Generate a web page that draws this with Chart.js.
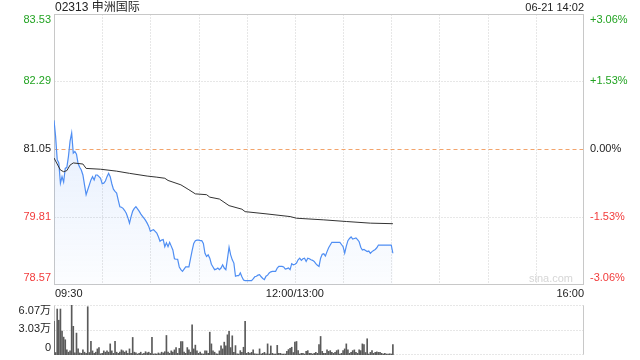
<!DOCTYPE html>
<html><head><meta charset="utf-8">
<script src="https://cdn.jsdelivr.net/npm/chart.js@4.4.0/dist/chart.umd.min.js"></script>
<style>
html,body{margin:0;padding:0;background:#fff;width:640px;height:360px;overflow:hidden;font-family:"Liberation Sans","Noto Sans CJK SC",sans-serif;}
#c1{position:absolute;left:0;top:0;}
#c2{position:absolute;left:0;top:300px;}
#title{position:absolute;left:55px;top:0;font-size:12px;line-height:14px;color:#222;}
#time{position:absolute;right:56px;top:0;font-size:11px;line-height:14px;color:#222;}
</style></head>
<body>
<canvas id="c1" width="640" height="300"></canvas>
<canvas id="c2" width="640" height="60"></canvas>
<div id="title">02313 申洲国际</div>
<div id="time">06-21 14:02</div>
<script>
// ---- data ----
const prevClose = 81.05;
const priceTicks = [83.53, 82.29, 81.05, 79.81, 78.57];
const pctLabels = ['+3.06%', '+1.53%', '0.00%', '-1.53%', '-3.06%'];
const timeTickMinutes = [0, 150, 330];
const timeTickLabels = ['09:30', '12:00/13:00', '16:00'];
const volTicks = [60700, 30350, 0];
const volTickLabels = ['6.07万', '3.03万', '0'];

// price per minute from 09:30 (index = minute)
const price = [
81.58,81.28,80.86,80.80,80.43,80.55,80.45,80.70,80.72,80.92,
81.20,81.35,80.98,81.01,80.96,80.79,80.72,80.67,80.58,80.40,
80.22,80.31,80.40,80.49,80.55,80.49,80.58,80.58,80.55,80.52,
80.42,80.43,80.47,80.55,80.61,80.55,80.42,80.32,80.28,80.25,
80.12,80.00,79.99,79.97,79.93,79.88,79.80,79.70,79.82,79.92,
79.97,80.00,79.96,79.92,79.87,79.83,79.79,79.75,79.70,79.64,
79.55,79.57,79.58,79.55,79.52,79.45,79.37,79.39,79.40,79.27,
79.34,79.27,79.35,79.28,79.21,79.05,79.04,79.04,78.90,78.85,
78.82,78.86,78.90,78.90,78.90,79.05,79.20,79.33,79.38,79.39,
79.39,79.38,79.38,79.33,79.15,79.09,79.12,79.06,78.95,78.90,
78.85,78.86,78.88,78.85,78.88,78.94,78.88,78.85,79.05,79.26,
79.12,79.03,78.97,78.73,78.74,78.74,78.79,78.72,78.66,78.65,
78.65,78.65,78.65,78.65,78.68,78.72,78.73,78.75,78.76,78.72,
78.69,78.67,78.73,78.75,78.79,78.81,78.82,78.82,78.82,78.88,
78.91,78.91,78.91,78.90,78.86,78.87,78.88,78.85,78.96,78.94,
78.95,78.97,79.03,79.06,79.02,79.05,79.06,79.00,79.06,79.05,
79.03,79.02,79.00,78.96,78.93,78.91,79.06,79.13,79.14,79.10,
79.18,79.25,79.30,79.35,79.35,79.35,79.35,79.35,79.35,79.31,
79.27,79.15,79.28,79.38,79.42,79.45,79.41,79.42,79.43,79.40,
79.36,79.26,79.21,79.22,79.20,79.18,79.19,79.15,79.18,79.20,
79.22,79.25,79.30,79.30,79.30,79.30,79.30,79.30,79.30,79.30,
79.30,79.15
];

// average price line (minute, value)
const avgMinutes = [0,4,6,8,10,12,18,20,29,39,47,58,64,69,71,79,84,88,95,97,103,109,117,119,132,147,151,168,182,197,211];
const avgValues  = [80.89,80.67,80.64,80.66,80.76,80.80,80.78,80.70,80.685,80.65,80.61,80.56,80.54,80.52,80.48,80.40,80.31,80.235,80.22,80.175,80.14,80.02,79.955,79.91,79.87,79.82,79.79,79.76,79.73,79.70,79.69];

// volume per minute
const volume = [
41000,3000,55800,42200,55800,29000,21700,18500,6200,3400,
5000,60700,34800,2500,26600,7400,2500,2000,6200,3400,
2000,58600,3000,16700,5000,2000,3400,7400,9000,1500,
2000,5000,3400,5000,3400,13500,5000,2000,16700,3400,
2000,3400,6200,5000,3400,5000,2000,7400,2000,21300,
3400,2500,1200,2000,3400,1200,2000,4000,2500,3400,
2000,21300,1200,1500,1200,2500,1500,3400,2500,4000,
23700,3400,2000,5000,3400,6200,9000,2000,8000,16300,
16300,3400,2000,9000,6200,3400,36500,7400,12000,5000,
2000,3400,1500,1200,5000,5000,2000,27700,13500,5000,
3400,1500,1200,5000,11000,7400,15600,11000,24500,28600,
9000,23300,3200,11400,1500,1200,5300,3200,9400,41000,
2000,3200,2000,3200,6200,1500,1200,1200,7400,1200,
2000,3200,1500,13500,1200,11000,2000,1200,1200,11700,
2000,2000,1200,1200,1200,4400,6600,8000,9400,3000,
15600,16400,5300,1200,2000,2000,1200,4400,5300,2000,
2000,1200,2000,3200,2000,12700,22500,4400,2000,2000,
6200,4400,5300,3200,2000,3200,5300,6200,1200,2000,
5300,7400,13500,6200,2000,3200,5300,6200,3200,2000,
6200,5300,13500,12700,3000,19700,1200,3200,5300,2000,
3200,3800,3200,3200,2000,1200,2000,1200,1200,1500,
1200,12700
];

// ---- styles ----
const FONT = '"Liberation Sans","Noto Sans CJK SC",sans-serif';
const GREEN = '#22a322', RED = '#f23b3b', DARK = '#222222';
const GRID = '#cfcfcf', BORDER = '#c8c8c8';

function hline(ctx, x1, x2, y) { ctx.beginPath(); ctx.moveTo(x1, y); ctx.lineTo(x2, y); ctx.stroke(); }
function vline(ctx, x, y1, y2) { ctx.beginPath(); ctx.moveTo(x, y1); ctx.lineTo(x, y2); ctx.stroke(); }

const mainFrame = {
  id: 'mainFrame',
  beforeDatasetsDraw(chart) {
    const { ctx, chartArea: a, scales: { x, y } } = chart;
    const L = Math.round(a.left) + 0.5, R = Math.round(a.right) - 0.5;
    const T = Math.round(a.top) + 0.5, B = Math.round(a.bottom) - 0.5;
    ctx.save();
    ctx.lineWidth = 1;
    ctx.strokeStyle = GRID;
    ctx.setLineDash([1, 2]);
    for (let t = 30; t < 330; t += 30) {
      const px = Math.round(x.getPixelForValue(t)) + 0.5;
      vline(ctx, px, T, B);
    }
    [priceTicks[1], priceTicks[3]].forEach(v => {
      hline(ctx, L, R, Math.round(y.getPixelForValue(v)) + 0.5);
    });
    ctx.strokeStyle = '#f3a46c';
    ctx.setLineDash([4, 3]);
    hline(ctx, L, R, Math.round(y.getPixelForValue(prevClose)) + 0.5);
    ctx.setLineDash([]);
    ctx.strokeStyle = BORDER;
    ctx.strokeRect(L, T, R - L, B - T);
    // watermark
    ctx.font = '11px ' + FONT;
    ctx.fillStyle = '#d6d6d6';
    ctx.textAlign = 'right';
    ctx.textBaseline = 'middle';
    ctx.fillText('sina.com', a.right - 11, a.bottom - 6);
    ctx.restore();
  },
  afterDraw(chart) {
    const { ctx, chartArea: a, scales: { x, y } } = chart;
    ctx.save();
    ctx.font = '11px ' + FONT;
    ctx.textBaseline = 'middle';
    priceTicks.forEach((v, i) => {
      let py = y.getPixelForValue(v);
      if (i === 0) py += 6.5;
      if (i === priceTicks.length - 1) py -= 7;
      ctx.fillStyle = v > prevClose ? GREEN : (v < prevClose ? RED : DARK);
      ctx.textAlign = 'right';
      ctx.fillText(v.toFixed(2), a.left - 3, py);
      ctx.textAlign = 'left';
      ctx.fillText(pctLabels[i], a.right + 6, py);
    });
    ctx.fillStyle = DARK;
    timeTickMinutes.forEach((m, i) => {
      const px = x.getPixelForValue(m);
      ctx.textAlign = i === 0 ? 'left' : (i === timeTickMinutes.length - 1 ? 'right' : 'center');
      ctx.fillText(timeTickLabels[i], px + (i === 0 ? 1 : 0), a.bottom + 9);
    });
    ctx.restore();
  }
};

const c1 = document.getElementById('c1');
new Chart(c1, {
  type: 'line',
  data: {
    datasets: [
      {
        label: 'avg',
        data: avgMinutes.map((m, i) => ({ x: m, y: avgValues[i] })),
        borderColor: '#333333',
        borderWidth: 1,
        pointRadius: 0,
        fill: false,
        tension: 0
      },
      {
        label: 'price',
        data: price.map((v, i) => ({ x: i, y: v })),
        borderColor: '#4f8ef3',
        borderWidth: 1.2,
        pointRadius: 0,
        tension: 0,
        fill: 'start',
        backgroundColor: (ctx) => {
          const a = ctx.chart.chartArea;
          if (!a) return 'rgba(79,142,243,0.1)';
          const g = ctx.chart.ctx.createLinearGradient(0, a.top, 0, a.bottom);
          g.addColorStop(0, 'rgba(79,142,243,0.22)');
          g.addColorStop(1, 'rgba(79,142,243,0.02)');
          return g;
        }
      }
    ]
  },
  options: {
    responsive: false,
    animation: false,
    devicePixelRatio: 1,
    layout: { padding: { left: 54, right: 56, top: 13.5, bottom: 15 } },
    plugins: { legend: { display: false }, tooltip: { enabled: false } },
    scales: {
      x: { type: 'linear', min: 0, max: 330, display: false },
      y: { type: 'linear', min: priceTicks[4], max: priceTicks[0], display: false }
    }
  },
  plugins: [mainFrame]
});

const volFrame = {
  id: 'volFrame',
  beforeDatasetsDraw(chart) {
    const { ctx, chartArea: a, scales: { y } } = chart;
    const L = Math.round(a.left) + 0.5, R = Math.round(a.right) - 0.5;
    const T = Math.round(a.top) + 0.5, B = Math.round(a.bottom) - 0.5;
    ctx.save();
    ctx.lineWidth = 1;
    ctx.strokeStyle = GRID;
    ctx.setLineDash([1, 2]);
    hline(ctx, L, R, T);
    hline(ctx, L, R, Math.round(y.getPixelForValue(volTicks[1])) + 0.5);
    hline(ctx, L, R, B);
    ctx.setLineDash([]);
    ctx.strokeStyle = BORDER;
    vline(ctx, L, T, B);
    vline(ctx, R, T, B);
    ctx.restore();
  },
  afterDraw(chart) {
    const { ctx, chartArea: a, scales: { y } } = chart;
    ctx.save();
    ctx.font = '11px ' + FONT;
    ctx.textBaseline = 'middle';
    ctx.textAlign = 'right';
    ctx.fillStyle = DARK;
    volTicks.forEach((v, i) => {
      let py = y.getPixelForValue(v);
      if (i === 0) py += 6;
      else if (i === volTicks.length - 1) py -= 7;
      else py -= 1;
      ctx.fillText(volTickLabels[i], a.left - 3, py);
    });
    ctx.restore();
  }
};

const c2 = document.getElementById('c2');
new Chart(c2, {
  type: 'bar',
  data: {
    datasets: [{
      data: volume.map((v, i) => ({ x: i, y: v })),
      backgroundColor: '#5a5a5a',
      barThickness: 1,
      borderWidth: 0
    }]
  },
  options: {
    responsive: false,
    animation: false,
    devicePixelRatio: 1,
    layout: { padding: { left: 54, right: 56, top: 5, bottom: 5 } },
    plugins: { legend: { display: false }, tooltip: { enabled: false } },
    scales: {
      x: { type: 'linear', min: 0, max: 330, offset: false, display: false },
      y: { min: 0, max: volTicks[0], display: false }
    }
  },
  plugins: [volFrame]
});
</script>
</body></html>
